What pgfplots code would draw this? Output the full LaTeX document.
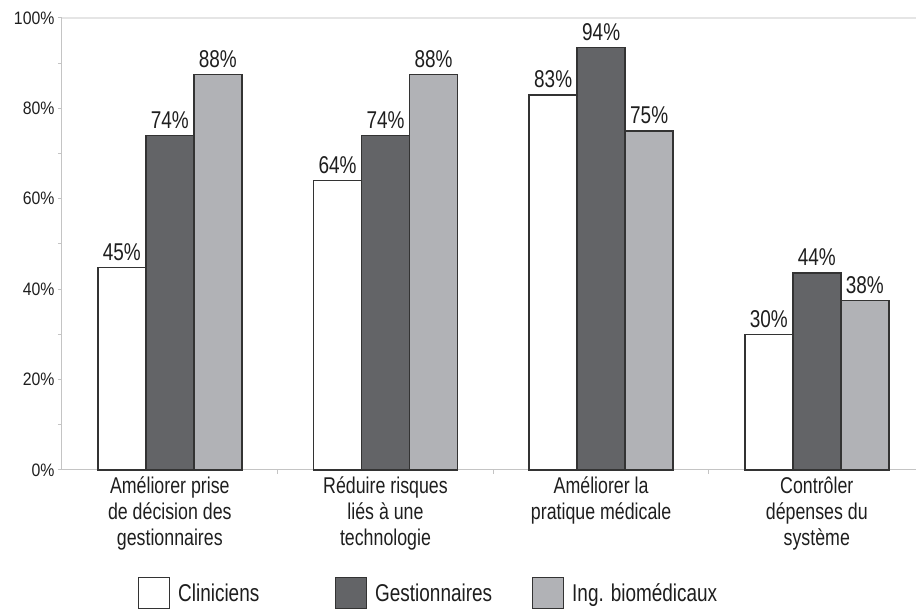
\documentclass[border=0pt]{standalone}
\usepackage{fontspec}
\setmainfont{Liberation Sans}[FakeStretch=0.78]
\newfontfamily\tickfont{Liberation Sans}[FakeStretch=0.88]
\usepackage{pgfplots}
\pgfplotsset{compat=1.18}
\definecolor{dk}{HTML}{636467}
\definecolor{lt}{HTML}{B1B2B6}
\definecolor{axc}{HTML}{C4C4C4}
\definecolor{txt}{HTML}{1E1E1E}
\definecolor{edge}{HTML}{333333}
\begin{document}
\begin{tikzpicture}
\begin{axis}[name=ax, width=854pt, height=452pt, scale only axis,
 xmin=-0.5, xmax=3.46, ymin=0, ymax=100,
 ybar=0pt, bar width=48pt,
 axis x line*=bottom, axis y line*=left,
 axis line style={axc, line width=1pt},
 every tick/.style={axc, line width=1pt},
 tick align=outside,
 ytick={0,20,...,100}, yticklabels={0\%,20\%,40\%,60\%,80\%,100\%},
 minor ytick={10,30,50,70,90},
 major tick length=4pt, minor tick length=4pt,
 yticklabel style={font=\tickfont\fontsize{18}{20}\selectfont, text=txt},
 xtick={0.5,1.5,2.5}, xticklabels={},
 extra x ticks={0,1,2,3},
 extra x tick labels={Améliorer prise\\de décision des\\gestionnaires, Réduire risques\\liés à une\\technologie, Améliorer la\\pratique médicale, Contrôler\\dépenses du\\système},
 extra x tick style={major tick length=0pt, xticklabel style={align=center, font=\fontsize{22.8}{26}\selectfont, text=txt, anchor=north, yshift=-3pt}},
 extra y ticks={100}, extra y tick labels={},
 extra y tick style={grid=major, major grid style={draw=black!10, line width=1.5pt}, major tick length=0pt},
 point meta=explicit symbolic,
 nodes near coords={\pgfplotspointmeta},
 every node near coord/.append style={font=\fontsize{24.3}{25}\selectfont, text=txt, yshift=3pt},
 legend style={at={(0.089,-0.2732)}, anchor=west, draw=none, fill=none, inner sep=0pt, font=\fontsize{24.3}{25}\selectfont, text=txt},
 legend columns=3, legend cell align=left,
 legend image code/.code={\draw[#1, line width=1pt] (0pt,-15.5pt) rectangle (31pt,15.5pt);},
 /tikz/every odd column/.append style={column sep=6pt},
 clip=false,
]
\addplot[fill=white, draw=edge, line width=1.5pt] coordinates {(0,44.8) [45\%] (1,64) [64\%] (2,83) [83\%] (3,30) [30\%]};
\addplot[fill=dk, draw=edge, line width=1.5pt] coordinates {(0,74) [74\%] (1,74) [74\%] (2,93.5) [94\%] (3,43.6) [44\%]};
\addplot[fill=lt, draw=edge, line width=1.5pt] coordinates {(0,87.5) [88\%] (1,87.5) [88\%] (2,75) [75\%] (3,37.5) [38\%]};
\legend{\makebox[155pt][l]{Cliniciens},\makebox[155pt][l]{Gestionnaires},\makebox[155pt][l]{Ing. biomédicaux}}
\end{axis}
\pgfresetboundingbox
\path[use as bounding box] ([xshift=-62pt,yshift=-142pt]ax.south west) rectangle ([yshift=18pt]ax.north east);
\end{tikzpicture}
\end{document}
